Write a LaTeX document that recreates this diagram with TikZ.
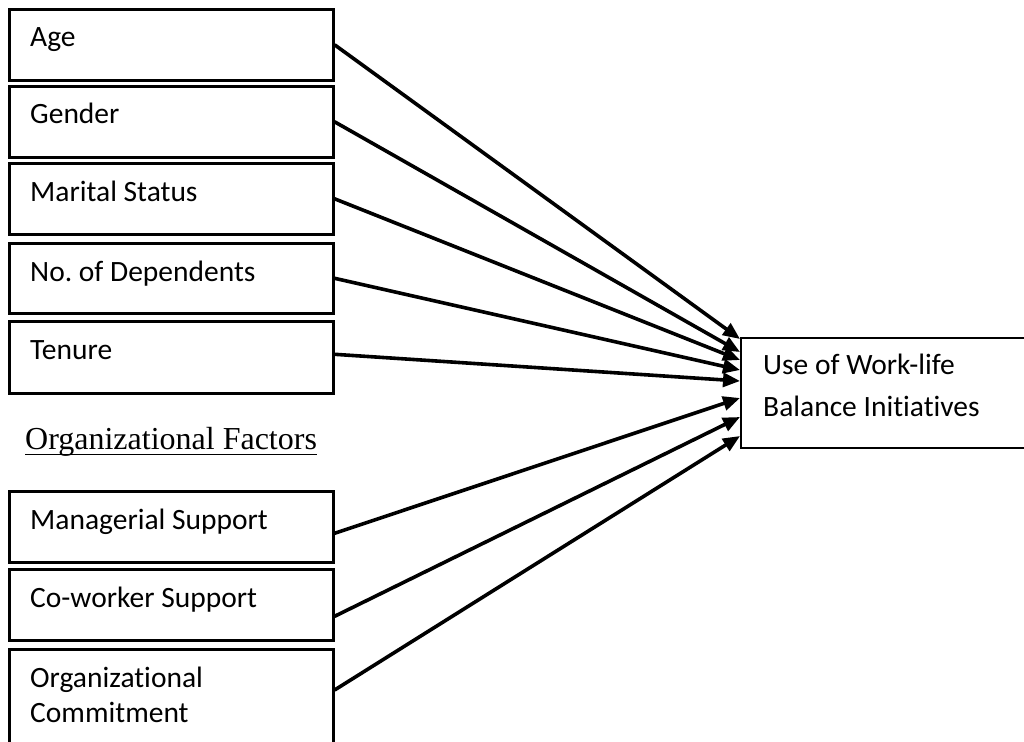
\documentclass[tikz,border=0pt]{standalone}
\usepackage{fontspec}
\setmainfont{Carlito}[Ligatures={NoCommon}]
\newfontfamily\headface{Liberation Serif}
\usetikzlibrary{arrows.meta}
\frenchspacing
\begin{document}
\begin{tikzpicture}[x=1pt,y=-1pt,
  factorbox/.style={draw, rectangle, line width=2.6pt, inner sep=0pt,
    minimum width=324pt, anchor=north west},
  boxtext/.style={anchor=base west, inner sep=0pt,
    font=\fontsize{29.5}{34}\selectfont},
  link/.style={line width=3.6pt, -{Triangle[length=17pt,width=14pt]}}
]
\useasboundingbox (0,0) rectangle (1024,741);

% individual factors
\node[factorbox, minimum height=71pt] (age) at (8,8) {};
\node[boxtext] (agetext) at (30,47) {Age};
\node[factorbox, minimum height=71pt] (gender) at (8,85) {};
\node[boxtext] (gendertext) at (30,124) {Gender};
\node[factorbox, minimum height=71pt] (marital) at (8,162) {};
\node[boxtext] (maritaltext) at (30,201) {Marital Status};
\node[factorbox, minimum height=70pt] (dep) at (8,242) {};
\node[boxtext] (deptext) at (30,281) {No. of Dependents};
\node[factorbox, minimum height=72pt] (tenure) at (8,320) {};
\node[boxtext] (tenuretext) at (30,359) {Tenure};

% heading of the organizational group
\node[anchor=base west, inner sep=0pt, font=\headface\fontsize{32}{38}\selectfont]
  (orgf) at (25,449) {Organizational Factors};
\draw[line width=1.8pt] ([yshift=-5.5pt]orgf.base west) -- ([yshift=-5.5pt]orgf.base east);

% organizational factors
\node[factorbox, minimum height=71pt] (mgr) at (8,490) {};
\node[boxtext] (mgrtext) at (30,529) {Managerial Support};
\node[factorbox, minimum height=71pt] (cow) at (8,568) {};
\node[boxtext] (cowtext) at (30,607) {Co-worker Support};
\node[factorbox, minimum height=115pt] (com) at (8,648) {};
\node[boxtext] (comtext1) at (30,687) {Organizational};
\node[boxtext] (comtext2) at (30,722) {Commitment};

% outcome
\node[draw, rectangle, line width=2.4pt, inner sep=0pt, anchor=north west,
  minimum width=300pt, minimum height=110pt] (use) at (740,337) {};
\node[boxtext] (usetext1) at (763,374) {Use of Work-life};
\node[boxtext] (usetext2) at (763,416) {Balance Initiatives};

% links into the outcome
\draw[link] (age.east) -- ([yshift=-2pt]use.north west);
\draw[link] (gender.east) -- ([yshift=-15pt]use.north west);
\draw[link] (marital.east) -- ([yshift=-23pt]use.north west);
\draw[link] (dep.east) -- ([yshift=-33pt]use.north west);
\draw[link] ([yshift=3pt]tenure.east) -- ([yshift=-44pt]use.north west);
\draw[link] ([yshift=-6.5pt]mgr.east) -- ([yshift=-61pt]use.north west);
\draw[link] ([yshift=-11.5pt]cow.east) -- ([yshift=-80pt]use.north west);
\draw[link] ([yshift=-42pt]com.north east) -- ([yshift=-99pt]use.north west);
\end{tikzpicture}
\end{document}
